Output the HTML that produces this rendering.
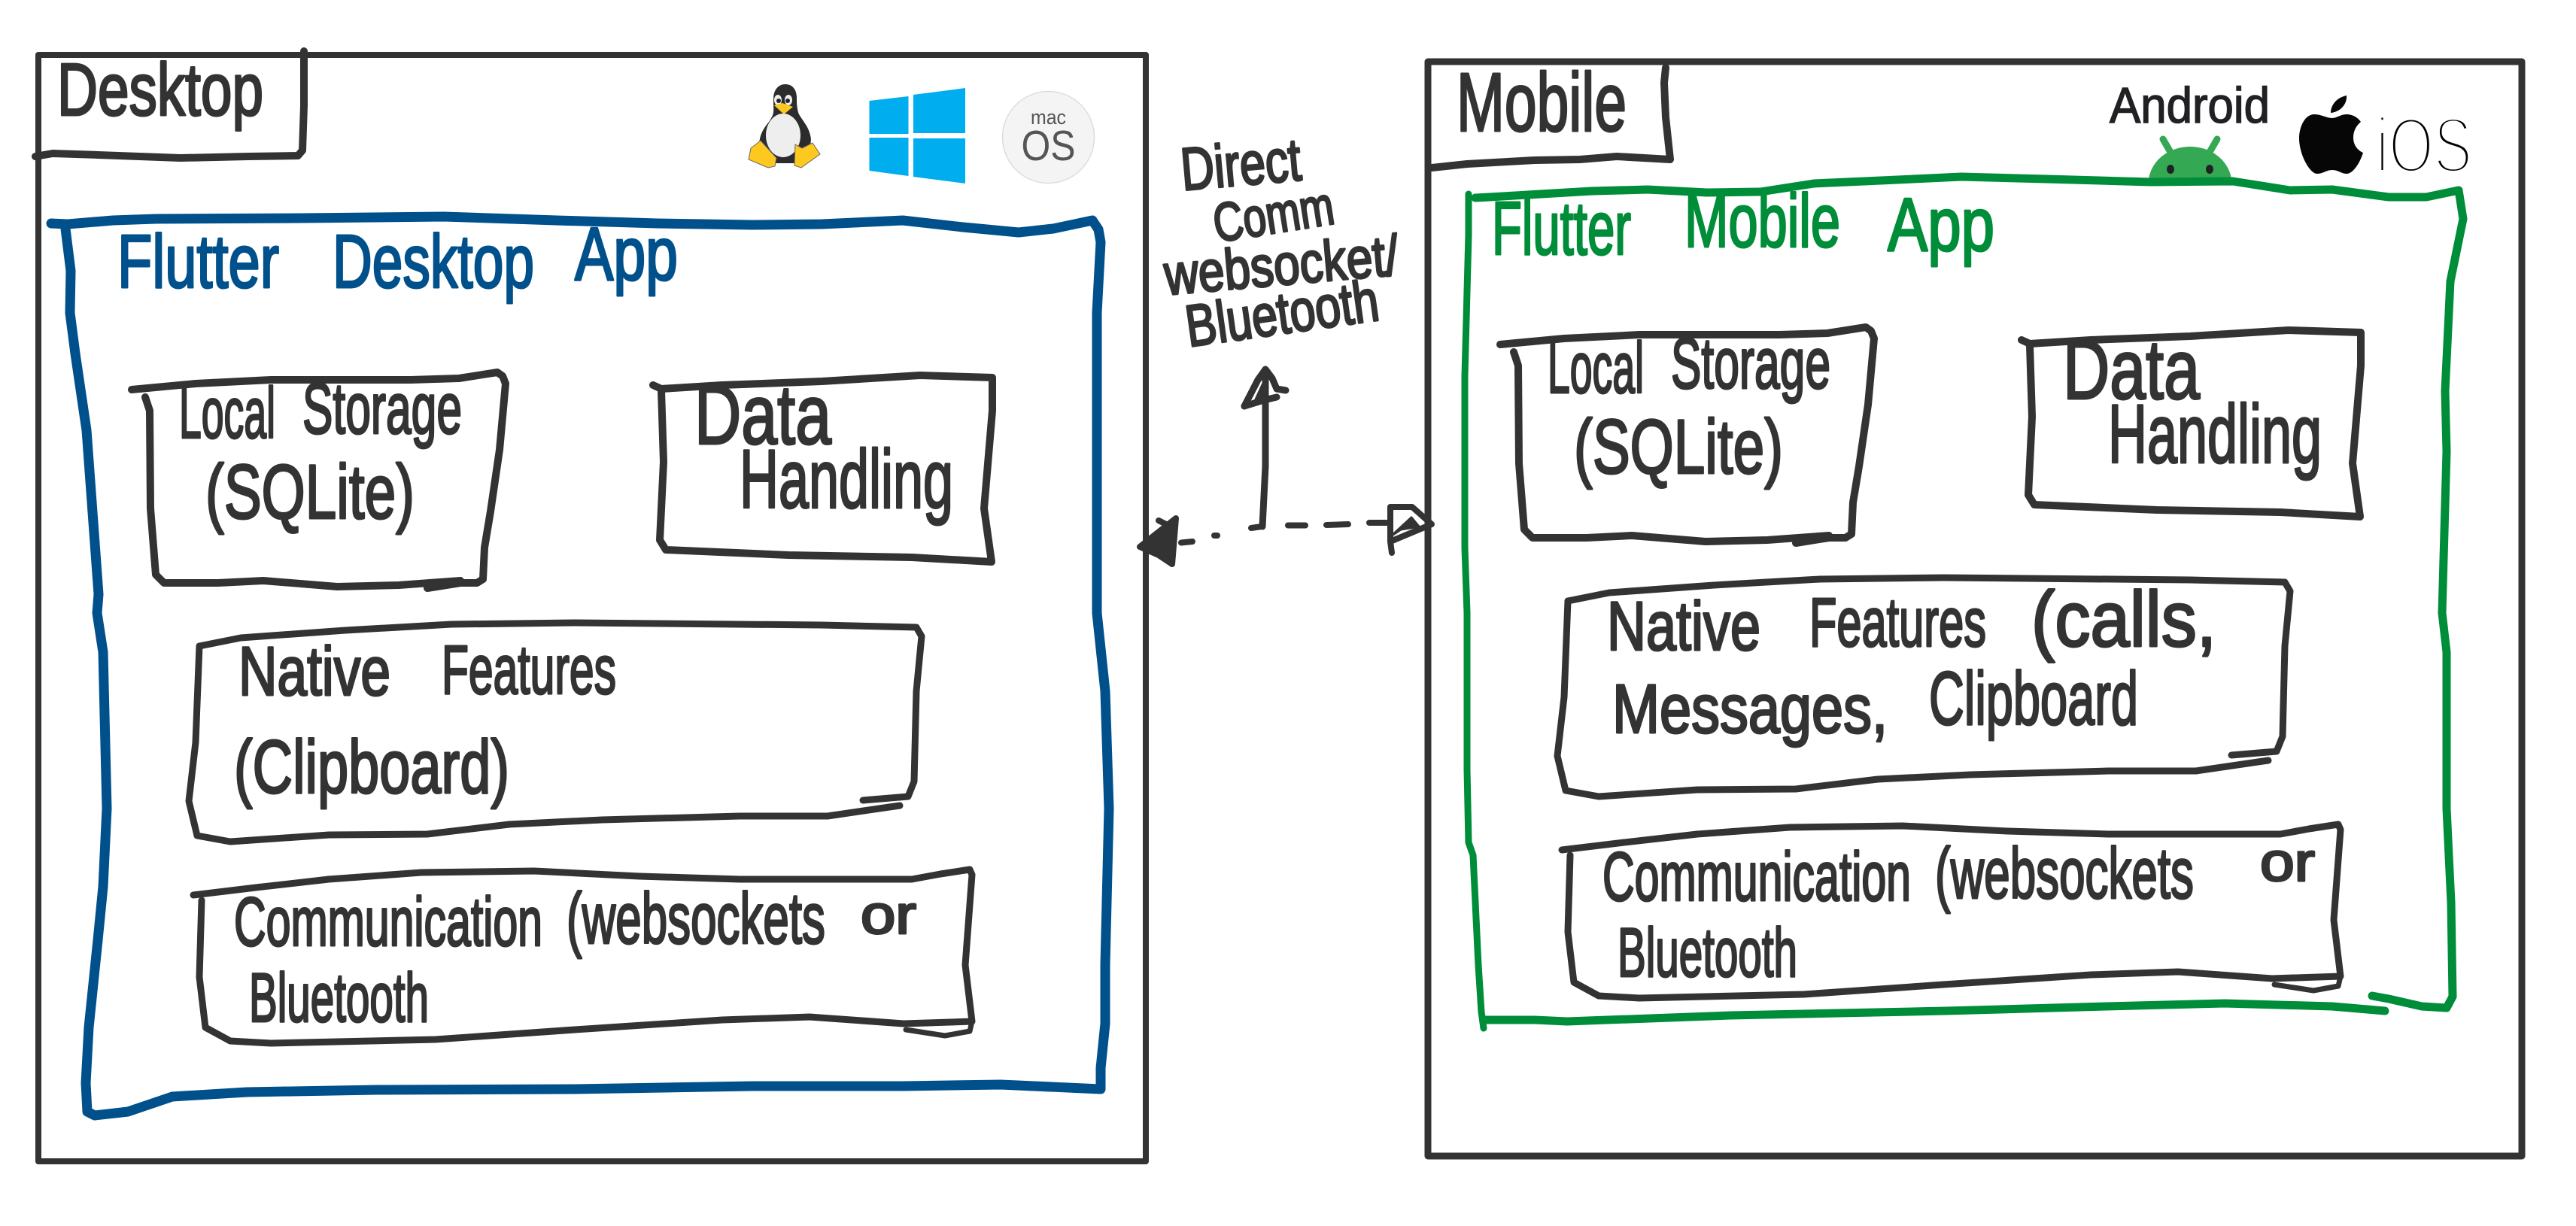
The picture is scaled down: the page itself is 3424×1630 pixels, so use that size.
<!DOCTYPE html>
<html lang="en">
<head>
<meta charset="utf-8">
<title>Flutter Desktop and Mobile App Diagram</title>
<style>
html,body{margin:0;padding:0;background:#fff;width:3424px;height:1630px;overflow:hidden}
svg{display:block}
.ln{fill:none;stroke:#333;stroke-linecap:round;stroke-linejoin:round}
.hw{font-family:"Liberation Sans",sans-serif;fill:#333;stroke:#333;stroke-width:3;stroke-linejoin:round}
</style>
</head>
<body>
<svg width="3424" height="1630" viewBox="0 0 3424 1630" xmlns="http://www.w3.org/2000/svg">
<rect width="3424" height="1630" fill="#fff"/>

<!-- Outer frames -->
<rect x="51" y="73" width="1472" height="1471" class="ln" stroke-width="8"/>
<rect x="1898" y="82" width="1454" height="1455" class="ln" stroke-width="9"/>

<!-- Tabs -->
<polyline class="ln" stroke-width="10" points="404,68 404,140 402,200 396,207 330,208 240,210 130,206 70,204 47,208"/>
<polyline class="ln" stroke-width="10" points="2214,90 2212,110 2214,156 2220,212 2149,208 2100,212 2040,213 1950,218 1903,223"/>
<text class="hw" x="76" y="153" font-size="98" textLength="274" lengthAdjust="spacingAndGlyphs">Desktop</text>
<text class="hw" x="1936" y="174" font-size="110" textLength="226" lengthAdjust="spacingAndGlyphs">Mobile</text>

<!-- Tux -->
<path fill="#2c2c2c" d="M1044 112C1034 112 1028 120 1028 132C1028 150 1030 150 1022 162C1014 172 1009 180 1009 195L1012 210L1030 217L1060 217L1076 205L1078 185C1076 170 1070 165 1062 152C1059 145 1059 135 1059 130C1059 120 1054 112 1044 112Z"/>
<ellipse cx="1041" cy="180" rx="23" ry="29" fill="#eee"/>
<ellipse cx="1034" cy="133" rx="5" ry="7" fill="#eee"/>
<ellipse cx="1048" cy="133" rx="5" ry="7" fill="#eee"/>
<circle cx="1035" cy="134" r="3" fill="#222"/>
<circle cx="1047" cy="134" r="3" fill="#222"/>
<path fill="#fdc91f" d="M1029 140L1040 137L1054 142L1042 152Z"/>
<path fill="#fdc91f" stroke="#666" stroke-width="1" d="M995 212L998 197L1011 187L1032 210L1030 221L1021 223Z"/>
<path fill="#fdc91f" stroke="#666" stroke-width="1" d="M1057 192L1066 197L1080 190L1090 205L1065 223L1056 220Z"/>

<!-- Windows -->
<g fill="#00adef">
<polygon points="1155.5,134 1207.5,128 1207.5,178 1155.5,178"/>
<polygon points="1214,126 1283,117 1283,177 1214,177"/>
<polygon points="1155.5,183 1207.5,183 1207.5,234 1155.5,227"/>
<polygon points="1214,184 1283,184 1283,244 1214,235"/>
</g>

<!-- macOS -->
<circle cx="1393.5" cy="182.5" r="61" fill="#f4f4f4" stroke="#ddd" stroke-width="1.5"/>
<text x="1393.5" y="165" text-anchor="middle" font-family="Liberation Sans,sans-serif" font-size="27" fill="#555" textLength="47" lengthAdjust="spacingAndGlyphs">mac</text>
<text x="1393.5" y="213" text-anchor="middle" font-family="Liberation Sans,sans-serif" font-size="57" fill="#555" textLength="72" lengthAdjust="spacingAndGlyphs">OS</text>

<!-- Android -->
<text x="2804" y="163" font-family="Liberation Sans,sans-serif" font-size="67" fill="#202124" stroke="#202124" stroke-width="1.5" textLength="213" lengthAdjust="spacingAndGlyphs">Android</text>
<path fill="#34a853" d="M2856 238C2860 212 2884 195 2911 195C2938 195 2962 212 2966 238Z"/>
<line x1="2875" y1="185" x2="2886" y2="204" stroke="#34a853" stroke-width="9" stroke-linecap="round"/>
<line x1="2947" y1="185" x2="2936" y2="204" stroke="#34a853" stroke-width="9" stroke-linecap="round"/>
<ellipse cx="2885" cy="225" rx="5" ry="6" fill="#202124"/>
<ellipse cx="2937" cy="225" rx="5" ry="6" fill="#202124"/>

<!-- Apple / iOS -->
<path fill="#060606" d="M3100 157C3092 157 3086 152 3076 152C3064 152 3056 168 3056 184C3056 205 3070 231 3080 231C3088 231 3092 226 3100 226C3108 226 3112 231 3119 231C3128 231 3137 216 3141 203C3134 200 3128 193 3128 183C3128 174 3132 167 3138 162C3133 155 3126 152 3119 152C3111 152 3106 157 3100 157Z"/>
<path fill="#060606" d="M3098 150C3098 138 3108 129 3119 127C3120 139 3110 149 3098 150Z"/>
<text x="3158" y="229" font-family="Liberation Sans,sans-serif" font-size="104" fill="#000" stroke="#fff" stroke-width="6" textLength="128" lengthAdjust="spacingAndGlyphs">iOS</text>

<!-- Blue container -->
<polyline class="ln" style="stroke:#00508c" stroke-width="13" points="68,297 90,298 150,293 207,291 400,290 590,288 740,293 874,297 1000,299 1092,298 1200,293 1280,302 1354,309 1400,304 1452,293 1460,305 1463,322 1458,416 1458,815 1469,919 1474,1075 1469,1283 1469,1361 1463,1420 1463,1448 1330,1442 1201,1444 1000,1444 764,1448 500,1449 328,1452 229,1458 170,1478 126,1483 116,1478 114,1440 118,1366 130,1250 137,1179 142,1075 137,867 129,815 131,790 115,572 100,470 93,416 94,360 87,304"/>
<g class="hw" style="fill:#00508c;stroke:#00508c">
<text x="156" y="382" font-size="100" textLength="215" lengthAdjust="spacingAndGlyphs">Flutter</text>
<text x="442" y="382" font-size="100" textLength="268" lengthAdjust="spacingAndGlyphs">Desktop</text>
<text x="764" y="372" font-size="100" textLength="137" lengthAdjust="spacingAndGlyphs">App</text>
</g>

<!-- Green container -->
<polyline class="ln" style="stroke:#008d39" stroke-width="11" points="3153,1324 3175,1328 3219,1338 3252,1340 3260,1325 3258,1200 3252,1075 3252,867 3246,815 3252,600 3250,520 3257,374 3274,291 3268,253 3225,262 3175,262 3100,252 3044,253 2968,241 2859,242 2720,238 2607,235 2500,240 2411,244 2340,255 2269,256 2190,252 2116,254 1980,262 1961,263"/>
<polyline class="ln" style="stroke:#008d39" stroke-width="11" points="3170,1344 3100,1338 2957,1334 2800,1338 2586,1344 2300,1350 2083,1358 2040,1356 1974,1356"/>
<polyline class="ln" style="stroke:#008d39" stroke-width="9" points="1952,258 1952,312 1947,500 1947,728 1950,815 1950,1023 1952,1120 1958,1137 1965,1283 1969,1345 1972,1367"/>
<g class="hw" style="fill:#008d39;stroke:#008d39">
<text x="1983" y="338" font-size="100" textLength="185" lengthAdjust="spacingAndGlyphs">Flutter</text>
<text x="2239" y="328" font-size="100" textLength="207" lengthAdjust="spacingAndGlyphs">Mobile</text>
<text x="2509" y="333" font-size="100" textLength="142" lengthAdjust="spacingAndGlyphs">App</text>
</g>

<!-- Desktop inner boxes -->
<g id="desktop-boxes">
<polyline class="ln" stroke-width="10" points="175,518 260,510 360,505 546,505 610,503 661,495 668,500 672,510 664,598 652,680 644,728 642,770 634,775 612,775 568,782"/>
<polyline class="ln" stroke-width="10" points="612,772 530,778 448,780 350,772 290,775 218,775 207,764 200,676 199,546 193,528"/>
<text class="hw" x="238" y="582" font-size="96" textLength="128" lengthAdjust="spacingAndGlyphs">Local</text>
<text class="hw" x="402" y="576" font-size="96" textLength="212" lengthAdjust="spacingAndGlyphs">Storage</text>
<text class="hw" x="273" y="689" font-size="102" textLength="278" lengthAdjust="spacingAndGlyphs">(SQLite)</text>

<polyline class="ln" stroke-width="10" points="868,512 879,517 960,512 1092,507 1223,499 1319,502 1319,546 1308,676 1318,747 1212,741 1048,738 885,731 877,718 882,614 879,520"/>
<text class="hw" x="923" y="590" font-size="112" textLength="182" lengthAdjust="spacingAndGlyphs">Data</text>
<text class="hw" x="983" y="675" font-size="110" textLength="284" lengthAdjust="spacingAndGlyphs">Handling</text>

<polyline class="ln" stroke-width="9" points="265,859 320,848 459,838 600,830 764,828 1092,831 1218,834 1225,846 1218,919 1215,1039 1207,1059 1147,1064"/>
<polyline class="ln" stroke-width="9" points="1196,1071 1100,1085 983,1085 800,1090 677,1096 568,1109 437,1110 306,1119 262,1111 251,1065 260,987 265,859"/>
<text class="hw" x="317" y="924" font-size="92" textLength="202" lengthAdjust="spacingAndGlyphs">Native</text>
<text class="hw" x="587" y="922" font-size="92" textLength="232" lengthAdjust="spacingAndGlyphs">Features</text>
<text class="hw" x="311" y="1054" font-size="100" textLength="366" lengthAdjust="spacingAndGlyphs">(Clipboard)</text>

<polyline class="ln" stroke-width="9" points="257,1190 340,1180 437,1169 560,1160 710,1158 850,1165 983,1169 1212,1169 1250,1162 1289,1156 1292,1163 1283,1283 1292,1358 1201,1361 1076,1352 960,1356 764,1369 579,1382 360,1387 306,1384 273,1366 265,1299 268,1197"/>
<polyline class="ln" stroke-width="7" points="1292,1358 1289,1371 1256,1377 1204,1369"/>
<text class="hw" x="311" y="1257" font-size="92" textLength="410" lengthAdjust="spacingAndGlyphs">Communication</text>
<text class="hw" x="753" y="1254" font-size="96" textLength="344" lengthAdjust="spacingAndGlyphs">(websockets</text>
<text class="hw" x="1144" y="1241" font-size="72" textLength="74" lengthAdjust="spacingAndGlyphs">or</text>
<text class="hw" x="331" y="1358" font-size="92" textLength="239" lengthAdjust="spacingAndGlyphs">Bluetooth</text>
</g>

<!-- Mobile inner boxes -->
<g transform="translate(1819,-60)">
<polyline class="ln" stroke-width="10" points="175,518 260,510 360,505 546,505 610,503 661,495 668,500 672,510 664,598 652,680 644,728 642,770 634,775 612,775 568,782"/>
<polyline class="ln" stroke-width="10" points="612,772 530,778 448,780 350,772 290,775 218,775 207,764 200,676 199,546 193,528"/>
<text class="hw" x="238" y="582" font-size="96" textLength="128" lengthAdjust="spacingAndGlyphs">Local</text>
<text class="hw" x="402" y="576" font-size="96" textLength="212" lengthAdjust="spacingAndGlyphs">Storage</text>
<text class="hw" x="273" y="689" font-size="102" textLength="278" lengthAdjust="spacingAndGlyphs">(SQLite)</text>

<polyline class="ln" stroke-width="10" points="868,512 879,517 960,512 1092,507 1223,499 1319,502 1319,546 1308,676 1318,747 1212,741 1048,738 885,731 877,718 882,614 879,520"/>
<text class="hw" x="923" y="590" font-size="112" textLength="182" lengthAdjust="spacingAndGlyphs">Data</text>
<text class="hw" x="983" y="675" font-size="110" textLength="284" lengthAdjust="spacingAndGlyphs">Handling</text>

<polyline class="ln" stroke-width="9" points="265,859 320,848 459,838 600,830 764,828 1092,831 1218,834 1225,846 1218,919 1215,1039 1207,1059 1147,1064"/>
<polyline class="ln" stroke-width="9" points="1196,1071 1100,1085 983,1085 800,1090 677,1096 568,1109 437,1110 306,1119 262,1111 251,1065 260,987 265,859"/>

<polyline class="ln" stroke-width="9" points="257,1190 340,1180 437,1169 560,1160 710,1158 850,1165 983,1169 1212,1169 1250,1162 1289,1156 1292,1163 1283,1283 1292,1358 1201,1361 1076,1352 960,1356 764,1369 579,1382 360,1387 306,1384 273,1366 265,1299 268,1197"/>
<polyline class="ln" stroke-width="7" points="1292,1358 1289,1371 1256,1377 1204,1369"/>
<text class="hw" x="311" y="1257" font-size="92" textLength="410" lengthAdjust="spacingAndGlyphs">Communication</text>
<text class="hw" x="753" y="1254" font-size="96" textLength="344" lengthAdjust="spacingAndGlyphs">(websockets</text>
<text class="hw" x="331" y="1358" font-size="92" textLength="239" lengthAdjust="spacingAndGlyphs">Bluetooth</text>
</g>
<text class="hw" x="3004" y="1171" font-size="72" textLength="73" lengthAdjust="spacingAndGlyphs">or</text>
<text class="hw" x="2136" y="864" font-size="92" textLength="204" lengthAdjust="spacingAndGlyphs">Native</text>
<text class="hw" x="2405" y="859" font-size="92" textLength="235" lengthAdjust="spacingAndGlyphs">Features</text>
<text class="hw" x="2700" y="859" font-size="104" textLength="246" lengthAdjust="spacingAndGlyphs">(calls,</text>
<text class="hw" x="2143" y="974" font-size="92" textLength="366" lengthAdjust="spacingAndGlyphs">Messages,</text>
<text class="hw" x="2564" y="963" font-size="100" textLength="278" lengthAdjust="spacingAndGlyphs">Clipboard</text>

<!-- Direct comm label -->
<text class="hw" transform="rotate(-5 1572 253)" x="1572" y="253" font-size="80" textLength="160" lengthAdjust="spacingAndGlyphs">Direct</text>
<text class="hw" transform="rotate(-9 1617 322)" x="1617" y="322" font-size="72" textLength="161" lengthAdjust="spacingAndGlyphs">Comm</text>
<text class="hw" transform="rotate(-5 1550 392)" x="1550" y="392" font-size="76" textLength="312" lengthAdjust="spacingAndGlyphs">websocket/</text>
<text class="hw" transform="rotate(-8 1580 461)" x="1580" y="461" font-size="78" textLength="258" lengthAdjust="spacingAndGlyphs">Bluetooth</text>

<!-- Vertical arrow -->
<g class="ln" stroke-width="9">
<polyline points="1678,700 1682,620 1682,496"/>
<polyline points="1654,540 1672,505 1682,491 1691,503 1697,517 1709,519"/>
<polyline points="1654,540 1680,532 1697,528"/>
<polygon fill="#333" stroke-width="2" points="1668,532 1680,506 1680,532"/>
</g>

<!-- Dashed connector -->
<g class="ln" stroke-width="8">
<polygon fill="#333" points="1515,727 1563,689 1558,750 1540,738"/>
<polyline points="1540,692 1552,698"/>
<line x1="1570" y1="721.5" x2="1585" y2="720"/>
<line x1="1614" y1="712" x2="1618" y2="712"/>
<line x1="1663" y1="702" x2="1677" y2="700"/>
<line x1="1712" y1="698.5" x2="1735" y2="698.5"/>
<line x1="1763" y1="698" x2="1792" y2="697"/>
<line x1="1820" y1="695" x2="1843" y2="695"/>
<polyline points="1850,735 1848,720 1848,674 1877,674 1903,697 1848,720"/>
<polygon fill="#333" stroke-width="3" points="1850,712 1876,688 1886,700 1862,704"/>
</g>
</svg>
</body>
</html>
